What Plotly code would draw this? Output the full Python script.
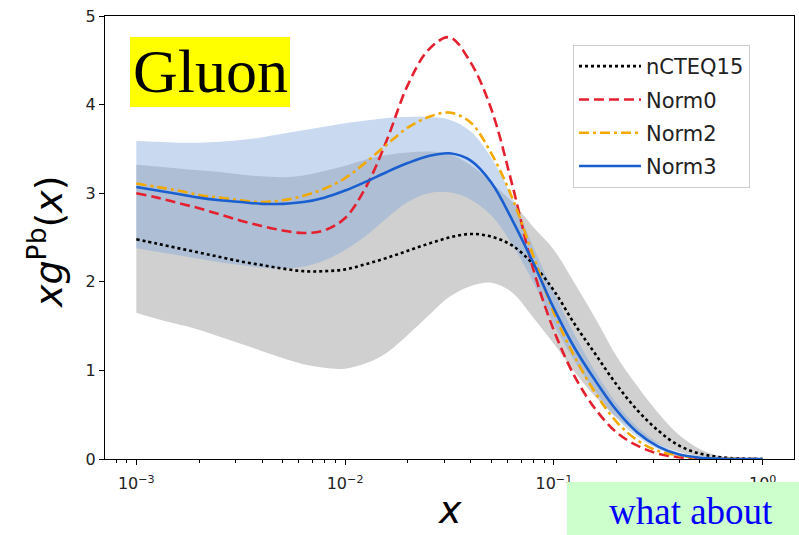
import plotly.graph_objects as go

# ---------------- data ----------------
LOG10_X = [-3.0, -2.9, -2.8, -2.7, -2.6, -2.5, -2.4, -2.3, -2.2, -2.1,
           -2.0, -1.9, -1.8, -1.7, -1.6, -1.5, -1.4, -1.3, -1.2, -1.1,
           -1.0, -0.9, -0.8, -0.7, -0.6, -0.5, -0.4, -0.3, -0.2, -0.1, 0.0]

NCTEQ15 = [2.48, 2.43, 2.38, 2.33, 2.28, 2.23, 2.19, 2.15, 2.12, 2.12,
           2.14, 2.20, 2.27, 2.35, 2.43, 2.50, 2.54, 2.51, 2.41, 2.20,
           1.90, 1.52, 1.18, 0.84, 0.55, 0.32, 0.15, 0.06, 0.02, 0.005, 0.0]
NORM0 = [3.00, 2.95, 2.89, 2.83, 2.76, 2.69, 2.63, 2.58, 2.55, 2.58,
         2.72, 3.07, 3.60, 4.22, 4.62, 4.76, 4.48, 3.95, 3.10, 2.15,
         1.45, 0.93, 0.56, 0.30, 0.15, 0.06, 0.02, 0.005, 0.0, 0.0, 0.0]
NORM2 = [3.11, 3.07, 3.03, 2.98, 2.95, 2.92, 2.90, 2.92, 2.97, 3.05,
         3.17, 3.35, 3.55, 3.74, 3.86, 3.91, 3.80, 3.45, 2.95, 2.30,
         1.65, 1.15, 0.74, 0.42, 0.21, 0.09, 0.04, 0.01, 0.003, 0.0, 0.0]
NORM3 = [3.07, 3.03, 2.99, 2.95, 2.92, 2.90, 2.88, 2.88, 2.90, 2.95,
         3.03, 3.13, 3.24, 3.34, 3.42, 3.45, 3.37, 3.12, 2.70, 2.22,
         1.70, 1.25, 0.88, 0.55, 0.30, 0.14, 0.05, 0.015, 0.003, 0.0, 0.0]

NCTEQ15_HI = [3.32, 3.30, 3.28, 3.26, 3.24, 3.21, 3.19, 3.18, 3.20, 3.25,
              3.31, 3.38, 3.43, 3.46, 3.47, 3.44, 3.32, 3.12, 2.90, 2.62,
              2.36, 1.98, 1.58, 1.16, 0.82, 0.52, 0.27, 0.11, 0.03, 0.005, 0.0]
NCTEQ15_LO = [1.65, 1.58, 1.52, 1.46, 1.38, 1.30, 1.22, 1.14, 1.07, 1.03,
              1.02, 1.08, 1.20, 1.40, 1.62, 1.83, 1.95, 1.99, 1.88, 1.60,
              1.30, 0.98, 0.70, 0.47, 0.30, 0.17, 0.08, 0.03, 0.008, 0.0, 0.0]
NORM3_HI = [3.59, 3.58, 3.57, 3.57, 3.58, 3.60, 3.63, 3.67, 3.71, 3.75,
            3.79, 3.82, 3.85, 3.86, 3.86, 3.83, 3.70, 3.40, 2.95, 2.40,
            1.88, 1.40, 0.98, 0.63, 0.36, 0.18, 0.07, 0.02, 0.005, 0.0, 0.0]
NORM3_LO = [2.38, 2.34, 2.30, 2.26, 2.22, 2.19, 2.16, 2.15, 2.17, 2.24,
            2.36, 2.52, 2.72, 2.90, 3.00, 3.01, 2.93, 2.75, 2.42, 2.00,
            1.52, 1.10, 0.76, 0.46, 0.25, 0.11, 0.04, 0.01, 0.0, 0.0, 0.0]

X_TICK_VALUES = [1e-3, 1e-2, 1e-1, 1.0]
X_TICK_LABELS = ["10<sup>\u22123</sup>", "10<sup>\u22122</sup>",
                 "10<sup>\u22121</sup>", "10<sup>0</sup>"]
Y_TICK_VALUES = [0, 1, 2, 3, 4, 5]
MINOR_X_TICKS = [k * 10.0 ** d for d in (-4, -3, -2, -1) for k in range(2, 10)]

x = [10 ** v for v in LOG10_X]

# ---------------- geometry helpers ----------------
W, H = 799, 535
L, R, T, B = 105, 794, 16, 459


def px(xp):
    return (xp - L) / (R - L)


def py(yp):
    return (B - yp) / (B - T)


fig = go.Figure()

# nCTEQ15 band (gray)
fig.add_trace(go.Scatter(x=x, y=NCTEQ15_HI, mode="lines", line=dict(width=0, shape="spline"),
                         showlegend=False, hoverinfo="skip"))
fig.add_trace(go.Scatter(x=x, y=NCTEQ15_LO, mode="lines", line=dict(width=0, shape="spline"),
                         fill="tonexty", fillcolor="rgb(208,208,208)",
                         showlegend=False, hoverinfo="skip"))
# Norm3 band (light blue, translucent)
fig.add_trace(go.Scatter(x=x, y=NORM3_HI, mode="lines", line=dict(width=0, shape="spline"),
                         showlegend=False, hoverinfo="skip"))
fig.add_trace(go.Scatter(x=x, y=NORM3_LO, mode="lines", line=dict(width=0, shape="spline"),
                         fill="tonexty", fillcolor="rgba(128,166,220,0.43)",
                         showlegend=False, hoverinfo="skip"))

fig.add_trace(go.Scatter(x=x, y=NCTEQ15, mode="lines", name="nCTEQ15", legendgroup="a",
                         line=dict(color="black", width=2.6, dash="dot", shape="spline")))
fig.add_trace(go.Scatter(x=x, y=NORM0, mode="lines", name="Norm0", legendgroup="b",
                         line=dict(color="#e5202e", width=2.6, dash="10px,5px", shape="spline")))
fig.add_trace(go.Scatter(x=x, y=NORM2, mode="lines", name="Norm2", legendgroup="c",
                         line=dict(color="#f2a900", width=2.6, dash="10px,4px,3px,4px", shape="spline")))
fig.add_trace(go.Scatter(x=x, y=NORM3, mode="lines", name="Norm3", legendgroup="d",
                         line=dict(color="#1a5fd0", width=2.6, shape="spline")))

axis_common = dict(showline=True, linecolor="black", linewidth=1.3, mirror=True,
                   ticks="outside", ticklen=5, tickwidth=1.1, tickcolor="black",
                   showgrid=False, zeroline=False,
                   tickfont=dict(family="DejaVu Sans", size=16, color="#222222"))

fig.update_xaxes(type="log", range=[-3.15, 0.15], tickmode="array",
                 tickvals=X_TICK_VALUES, ticktext=X_TICK_LABELS, ticklabelstandoff=5,
                 minor=dict(ticks="outside", ticklen=3, tickwidth=1, tickcolor="black",
                            tickmode="array", tickvals=MINOR_X_TICKS),
                 **axis_common)
fig.update_yaxes(range=[0, 5.0], tickmode="array", tickvals=Y_TICK_VALUES, **axis_common)

shapes = [
    dict(type="rect", xref="paper", yref="paper", x0=px(130), x1=px(290), y0=py(107), y1=py(37),
         fillcolor="#ffff00", line=dict(width=0), layer="above"),
    dict(type="rect", xref="paper", yref="paper", x0=px(567), x1=px(800), y0=py(536), y1=py(482),
         fillcolor="#ccffcc", line=dict(width=0), layer="above"),
]

annotations = [
    dict(text="Gluon", xref="paper", yref="paper", x=px(210), y=py(71), showarrow=False,
         xanchor="center", yanchor="middle",
         font=dict(family="Liberation Serif", size=62, color="black")),
    dict(text="what about", xref="paper", yref="paper", x=px(691), y=py(511), showarrow=False,
         xanchor="center", yanchor="middle",
         font=dict(family="Liberation Serif", size=37, color="#0000ff")),
    dict(text="<i>xg</i><sup>Pb</sup>(<i>x</i>)", xref="paper", yref="paper", x=px(46), y=py(241),
         showarrow=False, textangle=-90, xanchor="center", yanchor="middle",
         font=dict(family="DejaVu Sans", size=38, color="black")),
    dict(text="<i>x</i>", xref="paper", yref="paper", x=px(450), y=py(510), showarrow=False,
         xanchor="center", yanchor="middle",
         font=dict(family="DejaVu Sans", size=38, color="black")),
]

fig.update_layout(
    width=W, height=H,
    margin=dict(l=L, r=W - R, t=T, b=H - B, pad=0),
    plot_bgcolor="white", paper_bgcolor="white",
    shapes=shapes, annotations=annotations,
    legend=dict(x=px(573), y=py(45), xanchor="left", yanchor="top",
                bgcolor="rgba(255,255,255,0.9)", bordercolor="#cccccc", borderwidth=1,
                font=dict(family="DejaVu Sans", size=21, color="#222222"),
                traceorder="grouped", tracegroupgap=3, itemwidth=62),
)

fig.write_html("out.html")
